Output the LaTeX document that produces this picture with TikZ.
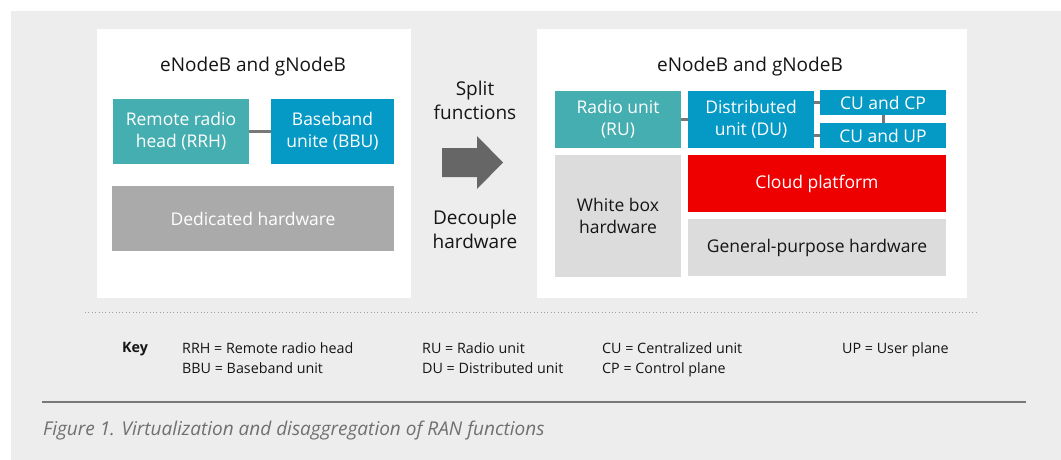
\documentclass[tikz,border=0pt]{standalone}
\usepackage{fontspec}
\setmainfont{Open Sans}
\usepackage{tikz}
\usetikzlibrary{positioning,calc}
\definecolor{pagegrey}{RGB}{237,237,237}
\definecolor{radioteal}{RGB}{69,174,176}
\definecolor{unitblue}{RGB}{5,153,198}
\definecolor{hwgrey}{RGB}{170,170,170}
\definecolor{hwlight}{RGB}{220,220,220}
\definecolor{cloudred}{RGB}{238,0,0}
\definecolor{arrowgrey}{RGB}{102,102,102}
\definecolor{linkgrey}{RGB}{120,120,120}
\definecolor{inkdark}{RGB}{21,21,21}
\definecolor{captiongrey}{RGB}{112,112,112}
\tikzset{
  base/.style={font=\fontsize{17.5}{22}\selectfont, align=center, inner sep=0pt, text=inkdark},
  unit/.style={base, rectangle, fill=#1, text=white},
  hw/.style={base, rectangle, fill=hwlight},
  panel/.style={fill=white, draw=none},
  ttl/.style={base, font=\fontsize{19}{24}\selectfont},
  link/.style={draw=linkgrey, line width=3pt},
  keytxt/.style={base, anchor=west, align=left, font=\fontsize{14.3}{20}\selectfont},
}
\begin{document}
\begin{tikzpicture}[x=1pt,y=-1pt]
  \useasboundingbox (0,0) rectangle (1061,460);
  \fill[pagegrey] (11,11) rectangle (1061,460);
  % panels
  \fill[panel] (97,29) rectangle (411,298);
  \fill[panel] (537,29) rectangle (967,298);
  % legacy side
  \node[ttl] (ttlL) at (253,67) {eNodeB and gNodeB};
  \node[unit=radioteal, minimum width=136, minimum height=65] (rrh) at (181,131.5) {Remote radio\\head (RRH)};
  \node[unit=unitblue, minimum width=123, minimum height=65] (bbu) at (332.5,131.5) {Baseband\\unite (BBU)};
  \node[unit=hwgrey, minimum width=282, minimum height=65] (ded) at (253,218.5) {Dedicated hardware};
  \draw[link] (rrh) -- (bbu);
  % transition
  \node[ttl] (split) at (475,100) {Split\\functions};
  \fill[arrowgrey] (442,148) -- (477,148) -- (477,136) -- (503,162.5) -- (477,189) -- (477,177) -- (442,177) -- cycle;
  \node[ttl] (decouple) at (475,229) {Decouple\\hardware};
  % virtualized side
  \node[ttl] (ttlR) at (750,67) {eNodeB and gNodeB};
  \node[unit=radioteal, minimum width=126, minimum height=57] (ru) at (618,119.5) {Radio unit\\(RU)};
  \node[unit=unitblue, minimum width=126, minimum height=57] (du) at (751,119.5) {Distributed\\unit (DU)};
  \node[unit=unitblue, minimum width=126, minimum height=25] (cucp) at (883,102.5) {CU and CP};
  \node[unit=unitblue, minimum width=126, minimum height=25] (cuup) at (883,135.5) {CU and UP};
  \node[hw, minimum width=126, minimum height=122] (wbox) at (618,216) {White box\\hardware};
  \node[unit=cloudred, minimum width=258, minimum height=57] (cloud) at (817,183.5) {Cloud platform};
  \node[hw, minimum width=258, minimum height=57] (gphw) at (817,247.5) {General-purpose hardware};
  \draw[link] (ru) -- (du);
  \draw[link] (du.east |- cucp.west) -- (cucp.west);
  \draw[link] (du.east |- cuup.west) -- (cuup.west);
  \draw[link] (cucp) -- (cuup);
  % key
  \coordinate (dotA) at (85,312);
  \coordinate (dotB) at (978,312);
  \draw[linkgrey!70, line width=0.8pt, dash pattern=on 0.8pt off 2.6pt] (dotA) -- (dotB);
  \node[keytxt, font=\fontsize{14.3}{20}\selectfont\bfseries] (key) at (122,349.5) {Key};
  \node[keytxt, anchor=north west] (keyA) at (182,342) {RRH = Remote radio head\\BBU = Baseband unit};
  \node[keytxt, anchor=north west] (keyB) at (422,342) {RU = Radio unit\\DU = Distributed unit};
  \node[keytxt, anchor=north west] (keyC) at (602,342) {CU = Centralized unit\\CP = Control plane};
  \node[keytxt, anchor=north west] (keyD) at (842,342) {UP = User plane};
  % caption
  \coordinate (ruleA) at (42,402);
  \coordinate (ruleB) at (1026,402);
  \draw[linkgrey, line width=1.3pt] (ruleA) -- (ruleB);
  \node[base, anchor=west, text=captiongrey, font=\fontsize{19}{22}\selectfont\itshape] (caption) at (43,431) {Figure 1. Virtualization and disaggregation of RAN functions};
\end{tikzpicture}
\end{document}
